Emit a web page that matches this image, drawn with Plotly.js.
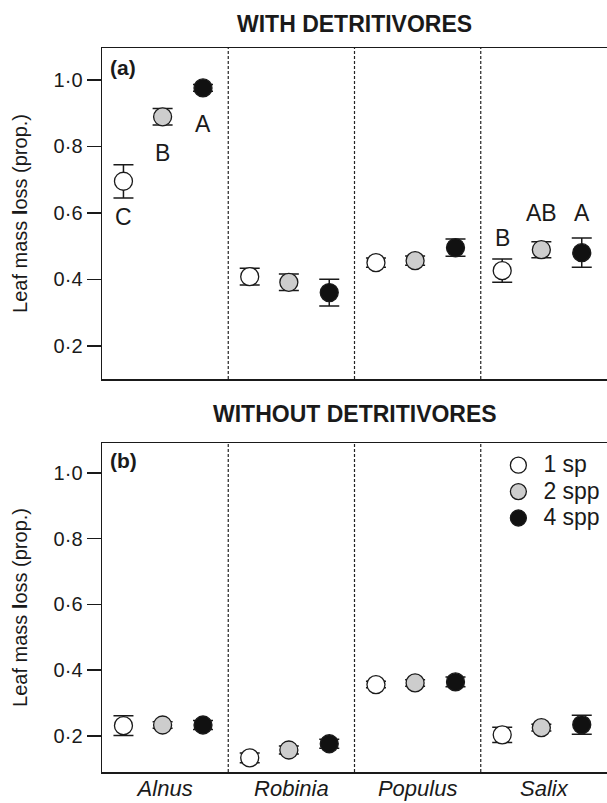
<!DOCTYPE html>
<html>
<head>
<meta charset="utf-8">
<script src="https://cdn.plot.ly/plotly-3.0.1.min.js"></script>
<style>html,body{margin:0;padding:0;background:#fff;}#chart{width:607px;height:803px;}</style>
</head>
<body>
<div id="chart"></div>
<script>
// ---- data ----
var categories = ["Alnus", "Robinia", "Populus", "Salix"];
var seriesNames = ["1 sp", "2 spp", "4 spp"];

// Panel (a): with detritivores
var withMean1 = [0.695, 0.408, 0.450, 0.426];
var withErr1  = [0.050, 0.025, 0.014, 0.035];
var withMean2 = [0.889, 0.391, 0.456, 0.489];
var withErr2  = [0.025, 0.025, 0.014, 0.024];
var withMean4 = [0.976, 0.360, 0.495, 0.480];
var withErr4  = [0.010, 0.040, 0.026, 0.044];

// Panel (b): without detritivores
var woMean1 = [0.231, 0.133, 0.356, 0.203];
var woErr1  = [0.030, 0.015, 0.010, 0.023];
var woMean2 = [0.233, 0.157, 0.361, 0.225];
var woErr2  = [0.010, 0.012, 0.010, 0.010];
var woMean4 = [0.233, 0.176, 0.364, 0.234];
var woErr4  = [0.014, 0.014, 0.015, 0.029];

// Significance letters (panel a)
var lettersAlnus = ["C", "B", "A"];
var lettersSalix = ["B", "AB", "A"];

var tickVals = [0.2, 0.4, 0.6, 0.8, 1.0];
var tickText = ["0·2", "0·4", "0·6", "0·8", "1·0"];

// ---- styling ----
var FONT = "Liberation Sans, Arial, Helvetica, sans-serif";
var INK = "#1a1a1a";
var fills = ["#ffffff", "#cdcdcd", "#111111"];
var offsets = [-0.33, -0.02, 0.30];
var groupX = categories.map(function (c, i) { return i + 1; });

function xs(k) { return groupX.map(function (g) { return g + offsets[k]; }); }

var means = [[withMean1, withMean2, withMean4], [woMean1, woMean2, woMean4]];
var errs = [[withErr1, withErr2, withErr4], [woErr1, woErr2, woErr4]];

var traces = [];
[0, 1].forEach(function (p) {
  for (var k = 0; k < 3; k++) {
    traces.push({
      type: "scatter", mode: "markers",
      x: xs(k), y: means[p][k],
      name: '<span style="font-size:23px">' + seriesNames[k] + '</span>',
      showlegend: p === 1,
      xaxis: p === 0 ? "x" : "x2",
      yaxis: p === 0 ? "y" : "y2",
      error_y: { type: "data", array: errs[p][k], visible: true, color: INK, thickness: 1.5, width: 10 },
      marker: { size: 18, color: fills[k], line: { color: INK, width: 1.3 } },
      hoverinfo: "skip"
    });
  }
});

var annotations = [];
var LETTER_FONT = { family: FONT, size: 23, color: INK };
for (var k = 0; k < 3; k++) {
  annotations.push({ xref: "x", yref: "y", x: groupX[0] + offsets[k], y: means[0][k][0],
    text: lettersAlnus[k], showarrow: false, yshift: -36, font: LETTER_FONT });
  annotations.push({ xref: "x", yref: "y", x: groupX[3] + offsets[k], y: means[0][k][3],
    text: lettersSalix[k], showarrow: false, yshift: [33, 37, 40][k], font: LETTER_FONT });
}
var TITLE_FONT = { family: FONT, size: 23, color: INK };
annotations.push({ xref: "paper", yref: "paper", x: 0.5, y: 1 - 24 / 803, yanchor: "middle", text: "<b>WITH DETRITIVORES</b>",
  showarrow: false, font: TITLE_FONT });
annotations.push({ xref: "paper", yref: "paper", x: 0.5, y: 1 - 414 / 803, yanchor: "middle", text: "<b>WITHOUT DETRITIVORES</b>",
  showarrow: false, font: TITLE_FONT });
annotations.push({ xref: "paper", yref: "paper", x: 0.012, y: 1 - 67 / 803, xanchor: "left", yanchor: "middle", text: "<b>(a)</b>",
  showarrow: false, font: { family: FONT, size: 21, color: INK } });
annotations.push({ xref: "paper", yref: "paper", x: 0.012, y: 1 - 461 / 803, xanchor: "left", yanchor: "middle", text: "<b>(b)</b>",
  showarrow: false, font: { family: FONT, size: 21, color: INK } });

var shapes = [];
[["x", "y"], ["x2", "y2"]].forEach(function (ax) {
  for (var i = 1; i < categories.length; i++) {
    shapes.push({ type: "line", xref: ax[0], yref: ax[1] + " domain", x0: i + 0.5, x1: i + 0.5, y0: 0, y1: 1,
      line: { color: "#222", width: 1.2, dash: "3px,2px" } });
  }
});

function yax(domain, range) {
  return {
    domain: domain, range: range, tickvals: tickVals, ticktext: tickText,
    ticks: "outside", ticklen: 14, tickwidth: 1.5, tickcolor: INK,
    showline: true, linecolor: INK, linewidth: 1.5, showgrid: false, zeroline: false,
    tickfont: { family: FONT, size: 20, color: INK },
    title: { text: "Leaf mass <b>l</b>oss (prop.)", font: { family: FONT, size: 20, color: INK }, standoff: 20 },
    fixedrange: true
  };
}
function xax(anchor, showLabels) {
  return {
    domain: [0, 1], range: [0.5, 4.5], anchor: anchor,
    tickvals: groupX, ticktext: categories.map(function (c) { return "<i>" + c + "</i>"; }),
    showticklabels: showLabels, ticks: "", ticklabelstandoff: -4,
    showline: true, mirror: true, linecolor: INK, linewidth: 1.5, showgrid: false, zeroline: false,
    tickfont: { family: FONT, size: 22, color: INK }, fixedrange: true
  };
}

var layout = {
  width: 607, height: 803,
  margin: { l: 102, r: 0, t: 0, b: 0 },
  paper_bgcolor: "#fff", plot_bgcolor: "#fff",
  font: { family: FONT, color: INK },
  xaxis: xax("y", false),
  yaxis: yax([1 - 379 / 803, 1 - 48 / 803], [0.1, 1.096]),
  xaxis2: xax("y2", true),
  yaxis2: yax([1 - 772 / 803, 1 - 443 / 803], [0.09, 1.091]),
  showlegend: true,
  legend: { x: 0.775, y: 1 - 447 / 803, xanchor: "left", yanchor: "top", bgcolor: "rgba(0,0,0,0)",
    font: { family: FONT, size: 18, color: INK }, itemwidth: 40, tracegroupgap: 0 },
  annotations: annotations,
  shapes: shapes
};

Plotly.newPlot("chart", traces, layout, { staticPlot: true, displayModeBar: false });
</script>
</body>
</html>
